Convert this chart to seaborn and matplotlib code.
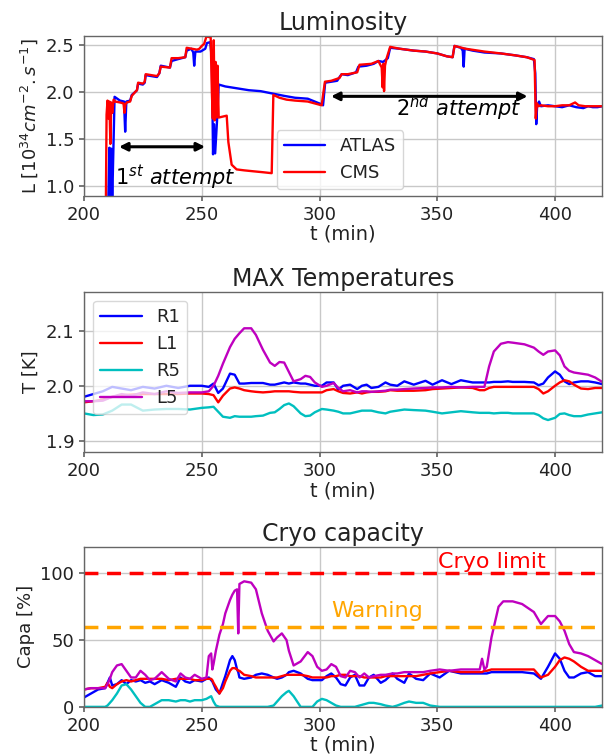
import numpy as np
import pandas as pd
import matplotlib
matplotlib.use("Agg")
import matplotlib.pyplot as plt
import seaborn as sns

# ---------------- data ----------------
# Luminosity (10^34 cm^-2 s^-1)
atlas_t = [210.3, 210.8, 211.2, 211.6, 212.0, 213.0, 215.3, 217.0, 217.5, 218.0, 219.6, 220.3, 221.7, 222.5, 223.0,
           225.0, 225.8, 226.2, 231.0, 232.0, 232.6, 236.5, 237.2, 240.0, 243.0, 243.6, 245.6, 246.4, 246.8, 247.3,
           249.5, 251.5, 252.2, 253.6, 254.3, 254.8, 255.2, 255.7, 256.5, 257.2, 260.0, 265.0, 270.0, 275.0, 281.0,
           285.0, 289.6, 295.0, 300.9, 301.5, 302.4, 305.0, 307.5, 308.5, 309.4, 312.0, 315.5, 316.5, 320.0, 323.0,
           325.0, 327.0, 329.0, 330.0, 334.0, 340.0, 345.0, 350.0, 354.0, 356.5, 357.3, 360.0, 360.8, 361.2, 361.6,
           365.0, 370.0, 377.0, 383.0, 388.0, 391.0, 391.6, 392.0, 392.4, 393.2, 394.0, 397.0, 400.0, 403.0, 406.0,
           409.0, 412.0, 414.0, 416.0, 418.0, 420.0]
atlas_L = [0.80, 1.41, 0.85, 1.40, 0.85, 1.95, 1.91, 1.90, 1.58, 1.90, 1.91, 1.97, 2.00, 2.02, 2.09,
           2.08, 2.10, 2.18, 2.16, 2.20, 2.28, 2.26, 2.33, 2.35, 2.37, 2.44, 2.46, 2.42, 2.28, 2.43,
           2.43, 2.46, 2.52, 2.53, 2.35, 1.34, 1.66, 1.35, 1.70, 2.08, 2.06, 2.04, 2.02, 2.01, 1.98,
           1.96, 1.94, 1.93, 1.87, 1.86, 2.10, 2.11, 2.12, 2.16, 2.19, 2.18, 2.21, 2.27, 2.28, 2.30,
           2.33, 2.32, 2.36, 2.47, 2.46, 2.44, 2.43, 2.41, 2.38, 2.37, 2.49, 2.47, 2.44, 2.27, 2.46,
           2.44, 2.42, 2.41, 2.39, 2.37, 2.35, 2.20, 1.66, 1.86, 1.90, 1.85, 1.86, 1.85, 1.84, 1.86,
           1.84, 1.83, 1.85, 1.84, 1.84, 1.85]

cms_t = [209.3, 209.6, 210.0, 210.4, 210.8, 211.2, 211.6, 212.0, 212.6, 213.2, 215.3, 216.8, 217.2, 217.6, 218.2,
         219.6, 220.3, 221.7, 222.5, 223.0, 225.0, 225.8, 226.2, 231.0, 232.0, 232.6, 236.5, 237.2, 240.0, 243.0,
         243.6, 248.0, 249.0, 250.0, 251.0, 252.0, 253.8, 254.3, 254.7, 255.1, 255.5, 255.9, 256.3, 256.7, 257.2,
         260.6, 261.3, 262.7, 264.8, 268.0, 271.9, 276.0, 279.7, 280.4, 283.0, 286.0, 289.6, 295.0, 300.9, 302.3,
         305.0, 308.5, 309.4, 312.0, 316.0, 317.0, 322.0, 325.0, 326.4, 326.8, 327.1, 327.4, 327.8, 328.5, 330.0,
         334.0, 340.0, 345.0, 350.0, 354.0, 356.5, 357.3, 362.0, 370.0, 377.0, 383.0, 388.0, 391.3, 391.8, 392.3,
         393.0, 394.0, 397.0, 400.0, 403.0, 406.0, 408.5, 410.0, 412.8, 416.0, 420.0]
cms_L = [0.80, 1.76, 1.91, 1.72, 1.90, 1.45, 1.89, 1.78, 1.92, 1.90, 1.89, 1.88, 1.78, 1.87, 1.89,
         1.90, 1.96, 2.00, 2.02, 2.10, 2.09, 2.11, 2.19, 2.17, 2.20, 2.27, 2.26, 2.36, 2.36, 2.37,
         2.47, 2.45, 2.46, 2.49, 2.51, 2.59, 2.58, 2.00, 1.72, 2.55, 1.70, 2.32, 1.73, 2.28, 1.73,
         1.75, 1.47, 1.23, 1.18, 1.17, 1.16, 1.15, 1.14, 1.97, 1.94, 1.92, 1.91, 1.90, 1.86, 2.11,
         2.12, 2.15, 2.19, 2.19, 2.21, 2.29, 2.30, 2.33, 2.26, 2.05, 2.30, 2.01, 2.28, 2.36, 2.48,
         2.46, 2.44, 2.43, 2.41, 2.38, 2.37, 2.49, 2.46, 2.43, 2.41, 2.39, 2.37, 2.34, 1.72, 1.88,
         1.85, 1.86, 1.85, 1.85, 1.86, 1.86, 1.89, 1.86, 1.85, 1.85, 1.85]

# MAX temperatures (K)
temp_t = [200, 204, 208, 212, 216, 220, 225, 230, 235, 240, 245, 250, 253, 255, 257, 259, 262, 264, 266, 268, 271,
          273, 276, 279, 281, 283, 285, 287, 289, 292, 294, 296, 298, 301, 303, 306, 308, 310, 313, 316, 318, 320,
          322, 325, 328, 330, 333, 336, 340, 345, 348, 352, 356, 360, 365, 368, 370, 372, 374, 377, 380, 382, 387,
          391, 393, 395, 397, 400, 402, 404, 406, 408, 411, 414, 417, 420]
temp_R1 = [1.980, 1.985, 1.990, 1.998, 1.995, 1.992, 1.998, 1.995, 2.000, 1.996, 2.000, 2.000, 1.998, 2.004, 1.987,
           1.995, 2.022, 2.020, 2.004, 2.004, 2.005, 2.005, 2.005, 2.002, 2.002, 2.004, 2.006, 2.004, 2.006, 2.004,
           2.004, 2.002, 2.000, 2.000, 2.006, 2.006, 1.993, 2.000, 2.002, 1.994, 2.000, 2.002, 1.996, 1.998, 2.006,
           2.002, 2.000, 2.008, 2.002, 2.009, 2.002, 2.010, 2.003, 2.010, 2.006, 2.006, 2.006, 2.006, 2.007, 2.007,
           2.008, 2.007, 2.007, 2.006, 2.001, 2.004, 2.015, 2.026, 2.020, 2.008, 2.003, 2.006, 2.008, 2.008, 2.006,
           2.003]
temp_L1 = [1.970, 1.972, 1.975, 1.980, 1.983, 1.984, 1.985, 1.985, 1.985, 1.985, 1.986, 1.986, 1.985, 1.983, 1.970,
           1.982, 1.995, 1.997, 1.995, 1.992, 1.990, 1.989, 1.988, 1.989, 1.990, 1.990, 1.990, 1.990, 1.989, 1.988,
           1.988, 1.988, 1.988, 1.988, 1.992, 1.994, 1.990, 1.987, 1.986, 1.988, 1.986, 1.988, 1.989, 1.989, 1.990,
           1.992, 1.991, 1.991, 1.991, 1.992, 1.994, 1.995, 1.996, 1.997, 1.996, 1.992, 1.992, 1.996, 1.998, 1.998,
           1.998, 1.998, 1.998, 1.998, 1.994, 1.986, 1.990, 2.000, 2.006, 2.010, 2.008, 2.002, 1.995, 1.994, 1.996,
           1.996]
temp_R5 = [1.950, 1.947, 1.948, 1.955, 1.966, 1.966, 1.955, 1.957, 1.958, 1.958, 1.957, 1.960, 1.961, 1.962, 1.953,
           1.944, 1.942, 1.945, 1.944, 1.944, 1.944, 1.945, 1.946, 1.951, 1.952, 1.958, 1.965, 1.968, 1.963, 1.950,
           1.945, 1.946, 1.952, 1.958, 1.957, 1.955, 1.953, 1.950, 1.950, 1.953, 1.955, 1.955, 1.955, 1.952, 1.950,
           1.953, 1.955, 1.957, 1.956, 1.955, 1.953, 1.950, 1.952, 1.954, 1.952, 1.951, 1.951, 1.951, 1.950, 1.951,
           1.951, 1.950, 1.950, 1.950, 1.947, 1.941, 1.938, 1.942, 1.949, 1.950, 1.947, 1.945, 1.945, 1.948, 1.950,
           1.952]
temp_L5 = [1.972, 1.972, 1.973, 1.980, 1.985, 1.982, 1.988, 1.985, 1.990, 1.987, 1.988, 1.988, 1.990, 2.000, 2.018,
           2.040, 2.070, 2.085, 2.095, 2.104, 2.104, 2.092, 2.065, 2.042, 2.036, 2.043, 2.042, 2.025, 2.008, 2.012,
           2.018, 2.016, 2.006, 1.998, 2.000, 2.005, 1.996, 1.990, 1.992, 1.988, 1.990, 1.990, 1.989, 1.990, 1.991,
           1.993, 1.993, 1.994, 1.995, 1.996, 1.997, 1.997, 1.998, 1.997, 1.998, 1.998, 1.998, 2.035, 2.062, 2.076,
           2.079, 2.078, 2.075, 2.069, 2.062, 2.056, 2.062, 2.064, 2.055, 2.035, 2.027, 2.024, 2.022, 2.020, 2.015,
           2.007]

# Cryo capacity (%)
capa_t = [200, 203, 206, 209, 210, 211, 212, 214, 216, 218, 220, 222, 224, 226, 228, 230, 233, 236, 239, 241, 243,
          245, 247, 250, 252, 253, 254, 254.5, 255, 256, 257.5, 259, 260, 262, 263, 264, 265, 265.5, 266, 268, 271,
          273, 275.5, 278, 280.5, 282, 284, 286, 287, 289, 292, 295, 297, 299, 301, 303, 305, 307, 309, 311, 313,
          315, 317, 319, 321, 323, 326, 328, 331, 333, 336, 338, 341, 344, 347, 351, 355, 360, 365, 368, 369, 370,
          371, 373, 376, 378, 382, 386, 391, 394, 397, 400, 402, 404, 406, 408, 411, 414, 417, 420]
capa_R1 = [7, 10, 13, 14, 18, 22, 16, 17, 20, 17, 20, 19, 20, 18, 19, 17, 20, 18, 15, 22, 19, 18, 20, 19, 21, 22,
           20, 19, 17, 13, 10, 18, 23, 35, 38, 35, 28, 26, 22, 21, 22, 24, 25, 24, 22, 21, 22, 24, 26, 27, 25, 21,
           20, 20, 20, 23, 25, 22, 17, 16, 22, 24, 16, 16, 22, 24, 18, 20, 25, 21, 18, 25, 21, 20, 25, 22, 27, 25,
           25, 25, 25, 25, 25, 26, 26, 26, 26, 26, 25, 21, 30, 40, 36, 27, 22, 22, 25, 26, 23, 23]
capa_L1 = [13, 14, 14, 15, 18, 15, 14, 17, 19, 20, 19, 20, 21, 21, 21, 21, 21, 20, 21, 21, 21, 21, 20, 20, 21, 21,
           21, 20, 18, 15, 10, 14, 19, 27, 29, 29, 28, 27, 27, 24, 23, 22, 22, 22, 22, 22, 23, 24, 24, 24, 24, 23,
           22, 22, 22, 22, 23, 23, 24, 24, 23, 23, 23, 22, 22, 22, 22, 23, 23, 23, 23, 23, 23, 24, 25, 26, 27, 26,
           26, 26, 26, 27, 27, 28, 28, 28, 28, 28, 28, 22, 24, 30, 35, 37, 36, 34, 30, 27, 27, 27]
capa_R5 = [0, 0, 0, 0, 1, 3, 5, 10, 16, 17, 13, 8, 3, 0, 0, 2, 5, 5, 4, 5, 5, 4, 5, 5, 6, 7, 8, 6, 4, 1, 0, 0, 0, 0,
           0, 0, 0, 0, 0, 0, 0, 0, 0, 0, 1, 4, 8, 11, 12, 8, 0, 0, 0, 4, 6, 5, 3, 1, 0, 0, 0, 0, 1, 2, 3, 3, 2, 1,
           0, 1, 3, 4, 3, 3, 1, 0, 0, 0, 0, 0, 0, 0, 0, 0, 0, 0, 0, 0, 0, 0, 0, 0, 0, 0, 0, 0, 0, 0, 0, 1]
capa_L5 = [13, 14, 14, 14, 17, 21, 26, 31, 32, 27, 22, 22, 27, 24, 20, 21, 26, 21, 19, 25, 22, 21, 24, 21, 22, 38,
           40, 28, 32, 42, 54, 62, 70, 80, 84, 87, 88, 55, 92, 94, 93, 88, 70, 57, 49, 52, 55, 50, 42, 31, 34, 41,
           38, 30, 27, 28, 32, 30, 23, 22, 27, 26, 22, 25, 22, 23, 24, 24, 25, 25, 26, 26, 26, 26, 27, 28, 27, 28,
           28, 28, 36, 28, 30, 52, 75, 79, 79, 77, 71, 62, 68, 68, 64, 57, 47, 41, 40, 38, 35, 32]

# references
cryo_limit = 100
warning_level = 60

# colours (pure matplotlib single-letter colours)
BLUE, RED, CYAN, MAGENTA, ORANGE = "#0000ff", "#ff0000", "#00bfbf", "#bf00bf", "#ffa500"

# ---------------- style ----------------
sns.set_theme(style="whitegrid")
plt.rcParams.update({
    "axes.edgecolor": "#666666",
    "axes.linewidth": 1.0,
    "grid.color": "#c8c8c8",
    "grid.linewidth": 1.0,
    "xtick.bottom": True,
    "ytick.left": True,
    "xtick.color": "#666666",
    "ytick.color": "#666666",
    "xtick.labelcolor": "#222222",
    "ytick.labelcolor": "#222222",
    "xtick.major.size": 3.5,
    "ytick.major.size": 3.5,
    "xtick.labelsize": 13,
    "ytick.labelsize": 13,
    "axes.labelsize": 13,
    "axes.titlesize": 17,
    "axes.labelcolor": "#222222",
    "text.color": "#222222",
    "mathtext.fontset": "dejavusans",
})
plt.rcParams["font.family"] = ["DejaVu Sans"]

fig = plt.figure(figsize=(6.04, 7.56), dpi=100)
ax1 = fig.add_axes([0.139, 0.741, 0.858, 0.212])
ax2 = fig.add_axes([0.139, 0.402, 0.858, 0.212])
ax3 = fig.add_axes([0.139, 0.065, 0.858, 0.212])

lw = 1.7

# ---- Luminosity ----
df_a = pd.DataFrame({"t": atlas_t, "L": atlas_L})
df_c = pd.DataFrame({"t": cms_t, "L": cms_L})
sns.lineplot(data=df_a, x="t", y="L", ax=ax1, color=BLUE, lw=lw, label="ATLAS", estimator=None, sort=False)
sns.lineplot(data=df_c, x="t", y="L", ax=ax1, color=RED, lw=lw, label="CMS", estimator=None, sort=False)
ax1.set_xlim(200, 420)
ax1.set_ylim(0.9, 2.6)
ax1.set_yticks([1.0, 1.5, 2.0, 2.5])
ax1.set_title("Luminosity", pad=4)
ax1.set_ylabel(r"L [$10^{34}cm^{-2}.s^{-1}$]")
ax1.legend(loc="lower left", bbox_to_anchor=(0.372, 0.04), fontsize=13, framealpha=0.8,
           handlelength=2.3, borderaxespad=0.0)
arrow_kw = dict(arrowstyle="<|-|>", color="black", lw=2.2, mutation_scale=12)
ax1.annotate("", xy=(213.7, 1.42), xytext=(252.6, 1.42), arrowprops=arrow_kw)
ax1.annotate("", xy=(303.7, 1.955), xytext=(389.5, 1.955), arrowprops=arrow_kw)
ax1.text(213.0, 1.01, r"$\mathit{1}^{\mathit{st}}$ attempt", style="italic", fontsize=15,
         ha="left", va="baseline", color="black")
ax1.text(386.0, 1.74, r"$\mathit{2}^{\mathit{nd}}$ attempt", style="italic", fontsize=15,
         ha="right", va="baseline", color="black")

# ---- Temperatures ----
df_T = pd.DataFrame({"t": temp_t, "R1": temp_R1, "L1": temp_L1, "R5": temp_R5, "L5": temp_L5})
series_cols = [("R1", BLUE), ("L1", RED), ("R5", CYAN), ("L5", MAGENTA)]
for name, col in series_cols:
    sns.lineplot(data=df_T, x="t", y=name, ax=ax2, color=col, lw=lw, label=name, estimator=None)
ax2.set_xlim(200, 420)
ax2.set_ylim(1.88, 2.17)
ax2.set_yticks([1.9, 2.0, 2.1])
ax2.set_title("MAX Temperatures", pad=4)
ax2.set_ylabel("T [K]")
ax2.legend(loc="upper left", fontsize=13, framealpha=0.75, handlelength=2.3)

# ---- Cryo capacity ----
df_C = pd.DataFrame({"t": capa_t, "R1": capa_R1, "L1": capa_L1, "R5": capa_R5, "L5": capa_L5})
for name, col in series_cols:
    sns.lineplot(data=df_C, x="t", y=name, ax=ax3, color=col, lw=lw, estimator=None, legend=False)
ax3.axhline(cryo_limit, color=RED, ls="--", lw=2.5, dashes=(4, 2.5))
ax3.axhline(warning_level, color=ORANGE, ls="--", lw=2.5, dashes=(4, 2.5))
ax3.text(350.5, 104, "Cryo limit", color=RED, fontsize=16, ha="left", va="baseline")
ax3.text(305, 67, "Warning", color=ORANGE, fontsize=16, ha="left", va="baseline")
ax3.set_xlim(200, 420)
ax3.set_ylim(0, 120)
ax3.set_yticks([0, 50, 100])
ax3.set_title("Cryo capacity", pad=4)
ax3.set_ylabel("Capa [%]")

for ax in (ax1, ax2, ax3):
    ax.set_xticks([200, 250, 300, 350, 400])
    ax.set_xlabel("t (min)", fontsize=14, labelpad=1)

fig.savefig("out.png", dpi=100)
